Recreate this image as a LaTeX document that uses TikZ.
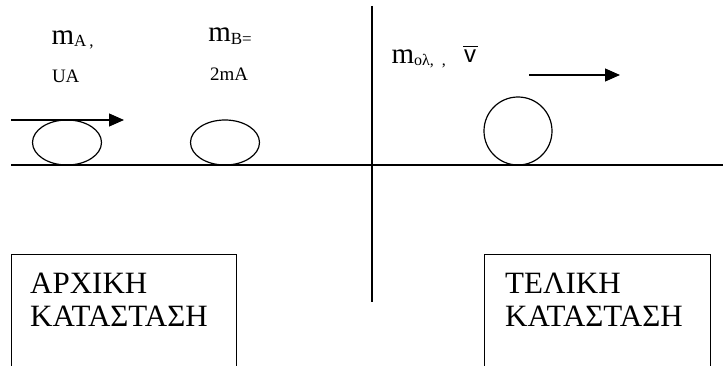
\documentclass[tikz,border=0pt]{standalone}
\usepackage{fontspec}
\setmainfont{Liberation Serif}
\newfontfamily\sansf{Liberation Sans}
\usetikzlibrary{arrows.meta,shapes.geometric}
\newcommand{\fsz}[1]{\fontsize{#1}{#1}\selectfont}
\begin{document}
\begin{tikzpicture}[x=1pt,y=-1pt,
  lbl/.style={inner sep=0pt,outer sep=0pt,anchor=base west},
  thin line/.style={line width=1.2pt},
  vecarrow/.style={line width=1.2pt,-{Triangle[length=15pt,width=13pt]}},
  statebox/.style={line width=1pt},
  statetxt/.style={inner sep=0pt,anchor=base west,align=left,font=\fontsize{31}{33.4}\selectfont}]
\useasboundingbox (0,0) rectangle (723,366);
% ground and divider
\coordinate (g1) at (11,165);
\coordinate (g2) at (723,165);
\draw[thin line] (g1) -- (g2);
\coordinate (d1) at (372,6);
\coordinate (d2) at (372,302);
\draw[line width=2pt] (d1) -- (d2);
% bodies
\node[draw,ellipse,line width=1.2pt,minimum width=69pt,minimum height=45pt,inner sep=0pt] (A) at (67,142.5) {};
\node[draw,ellipse,line width=1.2pt,minimum width=69pt,minimum height=45pt,inner sep=0pt] (B) at (225,142.5) {};
\node[draw,circle,line width=1.2pt,minimum size=68pt,inner sep=0pt] (C) at (518,131) {};
% arrows
\coordinate (a1) at (11,120);
\coordinate (a2) at (124,120);
\draw[vecarrow] (a1) -- (a2);
\coordinate (v1) at (529,75);
\coordinate (v2) at (620,75);
\draw[vecarrow] (v1) -- (v2);
% labels
\node[lbl] (mA) at (51.5,45) {\fsz{29}m\raisebox{-2pt}{\fsz{17}A\hspace{3pt},}};
\node[lbl] (uA) at (52,83) {\fsz{19}UA};
\node[lbl] (mB) at (208.3,42) {\fsz{29}m\raisebox{-3pt}{\fsz{17}B=}};
\node[lbl] (mB2) at (210,80.7) {\fsz{19}2mA};
\node[lbl] (mol) at (391.5,63.3) {\fsz{29}m\raisebox{-2pt}{\fsz{16}oλ,\hspace{8pt},}};
\node[lbl] (vbar) at (463,63) {\sansf\fsz{24}\vbox{\hrule width 15pt height 1.3pt\kern3pt\hbox{\hspace{1.2pt}v}}};
% state boxes
\draw[statebox] (11.7,366) -- (11.7,254.5) -- (236.7,254.5) -- (236.7,366);
\node[statetxt] (init) at (30,326.7) {ΑΡΧΙΚΗ\\ΚΑΤΑΣΤΑΣΗ};
\draw[statebox] (484,366) -- (484,255) -- (710,255) -- (710,366);
\node[statetxt] (fin) at (505,326.7) {ΤΕΛΙΚΗ\\ΚΑΤΑΣΤΑΣΗ};
\end{tikzpicture}
\end{document}
